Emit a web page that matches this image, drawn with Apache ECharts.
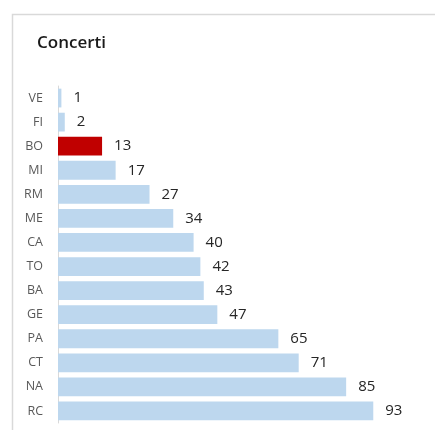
<!DOCTYPE html>
<html>
<head>
<meta charset="utf-8">
<script src="https://cdn.jsdelivr.net/npm/echarts@6/dist/echarts.min.js"></script>
<style>
  html, body { margin: 0; padding: 0; background: #fff; }
  #chart { width: 435px; height: 430px; }
</style>
</head>
<body>
<div id="chart"></div>
<script>
// dati: concerti per città
var cities = ['VE', 'FI', 'BO', 'MI', 'RM', 'ME', 'CA', 'TO', 'BA', 'GE', 'PA', 'CT', 'NA', 'RC'];
var concerti = [1, 2, 13, 17, 27, 34, 40, 42, 43, 47, 65, 71, 85, 93];
var highlight = 'BO';

var chart = echarts.init(document.getElementById('chart'));

var barData = concerti.map(function (v, i) {
  return {
    value: v,
    itemStyle: { color: cities[i] === highlight ? '#c00000' : '#bdd7ee' }
  };
});

chart.setOption({
  animation: false,
  title: {
    text: 'Concerti',
    left: 32,
    top: 30,
    textStyle: {
      fontFamily: 'Open Sans',
      fontSize: 17,
      fontWeight: 600,
      color: '#1a1a1a'
    }
  },
  graphic: [{
    type: 'rect',
    shape: { x: 12.5, y: 14.5, width: 460, height: 460 },
    style: { fill: 'none', stroke: '#d9d9d9', lineWidth: 1.5 },
    silent: true
  }],
  grid: { left: 58, right: 38, top: 86, bottom: 7 },
  xAxis: {
    type: 'value',
    min: 0,
    max: 100,
    show: false
  },
  yAxis: {
    type: 'category',
    inverse: true,
    data: cities,
    axisLine: { lineStyle: { color: '#d9d9d9', width: 1 } },
    axisTick: { show: false },
    axisLabel: {
      margin: 15,
      color: '#595959',
      fontFamily: 'Open Sans',
      fontSize: 12.5
    }
  },
  series: [{
    type: 'bar',
    data: barData,
    barCategoryGap: '22%',
    label: {
      show: true,
      position: 'right',
      distance: 12,
      color: '#262626',
      fontFamily: 'Open Sans',
      fontSize: 15
    }
  }]
});
</script>
</body>
</html>
